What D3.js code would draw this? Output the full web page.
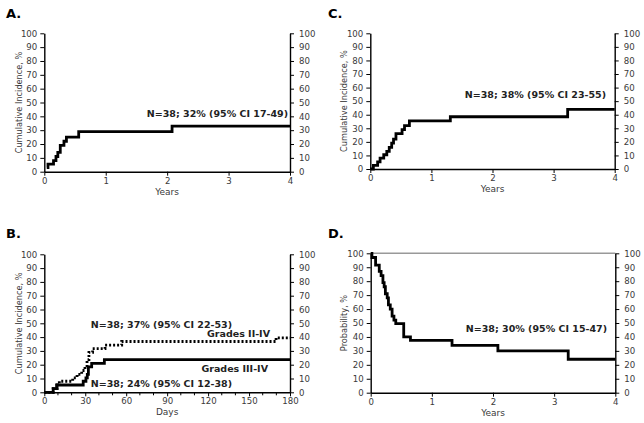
<!DOCTYPE html>
<html><head><meta charset="utf-8">
<script src="https://cdn.jsdelivr.net/npm/d3@7"></script>
<style>body{margin:0;background:#fff}svg{display:block}</style>
</head><body>
<svg id="c" width="644" height="423"></svg>
<script>
// Panel A: cumulative incidence (years, %)
const panelA_times  = [0.04, 0.06, 0.15, 0.19, 0.22, 0.26, 0.32, 0.36, 0.56, 2.08, 4];
const panelA_values = [3, 5.5, 8, 11, 14, 19, 22, 25, 29, 33, 33];
// Panel C: cumulative incidence (years, %)
const panelC_times  = [0, 0.05, 0.12, 0.16, 0.22, 0.27, 0.31, 0.35, 0.38, 0.42, 0.52, 0.56, 0.64, 1.31, 3.23, 4];
const panelC_values = [0, 2.6, 5.3, 8, 10.5, 13, 16, 19, 22, 26, 29, 32, 35.5, 38.5, 44, 44];
// Panel B: cumulative incidence (days, %)
const panelB_solid_times  = [0, 6.5, 9, 28.5, 30.5, 31.5, 32.3, 34.7, 44, 180];
const panelB_solid_values = [0, 2.6, 5.3, 8, 10.5, 13, 18.4, 21, 23.7, 23.7];
const panelB_dot_times  = [0, 6.5, 9.5, 11, 20.8, 24, 27.4, 29.8, 31.3, 32.7, 35.4, 44.5, 56.7, 169.8, 180];
const panelB_dot_values = [0, 2.6, 5.3, 8, 10.5, 13, 15.8, 18.4, 23.7, 29, 31.6, 34.2, 36.8, 39.5, 39.5];
// Panel D: probability (years, %)
const panelD_times  = [0, 0.02, 0.08, 0.14, 0.17, 0.2, 0.22, 0.24, 0.27, 0.29, 0.32, 0.35, 0.38, 0.41, 0.54, 0.65, 1.33, 2.08, 3.23, 4];
const panelD_values = [100, 97, 91.5, 87, 84, 79, 76, 71, 68, 63, 60, 55, 52, 49.5, 40, 37.5, 34, 30, 24, 24];

const yTicks = [0,10,20,30,40,50,60,70,80,90,100];
const yearTicks = [0,1,2,3,4];
const dayTicks = [0,30,60,90,120,150,180];
const dayMinorTicks = [10,20,40,50,70,80,100,110,130,140,160,170];

const svg = d3.select('#c');
const FONT = "'DejaVu Sans', Verdana, sans-serif";

function panel(o){
  const g = svg.append('g');
  const x = d3.scaleLinear().domain(o.xdom).range([o.x0, o.x1]);
  const y = d3.scaleLinear().domain([0,100]).range([o.y1, o.y0]);
  g.append('text').attr('x', o.lx).attr('y', o.ly).text(o.letter)
    .attr('font-family', FONT).attr('font-weight','bold').attr('font-size', 13).attr('fill','#000');
  if (o.topLine) g.append('line').attr('x1',o.x0).attr('x2',o.x1).attr('y1',o.y0).attr('y2',o.y0)
      .attr('stroke','#999').attr('stroke-width',1.5);
  const styleAxis = (sel) => {
    sel.select('.domain').attr('stroke','#000').attr('stroke-width',1.4);
    sel.selectAll('.tick line').attr('stroke','#000').attr('stroke-width',1);
    sel.selectAll('.tick text').attr('font-family',FONT).attr('font-size',8.6).attr('fill','#3a3a3a');
  };
  const yl = g.append('g').attr('transform',`translate(${o.x0},0)`)
    .call(d3.axisLeft(y).tickValues(yTicks).tickSize(4).tickSizeOuter(0).tickPadding(3));
  styleAxis(yl);
  const yr = g.append('g').attr('transform',`translate(${o.x1},0)`)
    .call(d3.axisRight(y).tickValues(yTicks).tickSize(4).tickSizeOuter(0).tickPadding(5));
  styleAxis(yr);
  const xa = g.append('g').attr('transform',`translate(0,${o.y1})`)
    .call(d3.axisBottom(x).tickValues(o.xticks).tickSize(4).tickSizeOuter(0).tickPadding(2).tickFormat(d3.format('d')));
  styleAxis(xa);
  if (o.minor) {
    g.append('g').selectAll('line').data(o.minor).join('line')
      .attr('x1', d=>x(d)).attr('x2', d=>x(d)).attr('y1', o.y1).attr('y2', o.y1+3)
      .attr('stroke','#000').attr('stroke-width',1);
  }
  g.append('text').attr('x',(o.x0+o.x1)/2).attr('y',o.y1+23).attr('text-anchor','middle')
    .attr('font-family',FONT).attr('font-size',9).attr('fill','#3a3a3a').text(o.xlabel);
  g.append('text').attr('transform',`translate(${o.ylx},${(o.y0+o.y1)/2}) rotate(-90)`)
    .attr('text-anchor','middle').attr('font-family',FONT).attr('font-size',8.2).attr('fill','#3a3a3a').text(o.ylabel);
  const line = d3.line().x(d=>x(d[0])).y(d=>y(d[1])).curve(d3.curveStepAfter);
  o.series.forEach(s => {
    const pts = s.t.map((t,i)=>[t, s.v[i]]);
    g.append('path').attr('d', line(pts)).attr('fill','none').attr('stroke','#000')
      .attr('stroke-width',2.8).attr('stroke-dasharray', s.dash || null);
  });
  o.notes.forEach(n => {
    g.append('text').attr('x',n.x).attr('y',n.y).attr('text-anchor',n.anchor||'start')
      .attr('font-family',FONT).attr('font-weight','bold').attr('font-size',n.size||9.5)
      .attr('fill','#222').text(n.text);
  });
}

panel({letter:'A.', lx:6, ly:17.5, x0:44.3, x1:290, y0:33.3, y1:171.7, xdom:[0,4], xticks:yearTicks,
  xlabel:'Years', ylabel:'Cumulative Incidence, %', ylx:21.5,
  series:[{t:panelA_times, v:panelA_values}],
  notes:[{x:288, y:117, anchor:'end', text:'N=38; 32% (95% CI 17-49)'}]});

panel({letter:'C.', lx:328, ly:17.5, x0:370.3, x1:614.7, y0:33.3, y1:169, xdom:[0,4], xticks:yearTicks,
  xlabel:'Years', ylabel:'Cumulative Incidence, %', ylx:347,
  series:[{t:panelC_times, v:panelC_values}],
  notes:[{x:606, y:98, anchor:'end', text:'N=38; 38% (95% CI 23-55)'}]});

panel({letter:'B.', lx:6, ly:238, x0:44.3, x1:290, y0:254.3, y1:392.3, xdom:[0,180], xticks:dayTicks, minor:dayMinorTicks,
  xlabel:'Days', ylabel:'Cumulative Incidence, %', ylx:21.5,
  series:[{t:panelB_solid_times, v:panelB_solid_values}, {t:panelB_dot_times, v:panelB_dot_values, dash:'2,2'}],
  notes:[{x:232, y:328, anchor:'end', text:'N=38; 37% (95% CI 22-53)'},
         {x:270, y:337, anchor:'end', text:'Grades II-IV'},
         {x:268, y:372, anchor:'end', text:'Grades III-IV'},
         {x:232, y:387, anchor:'end', text:'N=38; 24% (95% CI 12-38)'}]});

panel({letter:'D.', lx:328, ly:238, x0:370.7, x1:615.3, y0:253.3, y1:392.7, xdom:[0,4], xticks:yearTicks, topLine:true,
  xlabel:'Years', ylabel:'Probability, %', ylx:347,
  series:[{t:panelD_times, v:panelD_values}],
  notes:[{x:607, y:332, anchor:'end', text:'N=38; 30% (95% CI 15-47)'}]});
</script>
</body></html>
